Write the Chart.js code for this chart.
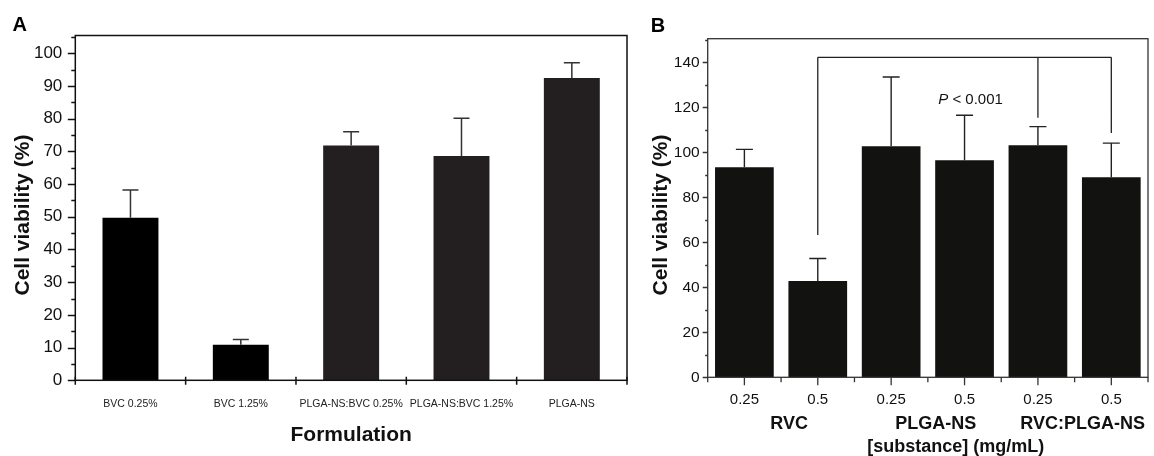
<!DOCTYPE html>
<html>
<head>
<meta charset="utf-8">
<script src="https://cdn.jsdelivr.net/npm/chart.js@4"></script>
<style>
  html, body { margin: 0; padding: 0; background: #fff; }
  #wrap { position: relative; width: 1154px; height: 456px; }
  canvas { position: absolute; top: 0; }
  #panelA { left: 0; }
  #panelB { left: 640px; }
</style>
</head>
<body>
<div id="wrap">
  <canvas id="panelA" width="640" height="456"></canvas>
  <canvas id="panelB" width="514" height="456"></canvas>
</div>
<script>
// panel A
const formulations = ['BVC 0.25%', 'BVC 1.25%', 'PLGA-NS:BVC 0.25%', 'PLGA-NS:BVC 1.25%', 'PLGA-NS'];
const viabilityA = [49.7, 10.9, 71.8, 68.6, 92.4];
const sdA = [8.5, 1.6, 4.2, 11.5, 4.7];
const yTicksA = [0, 10, 20, 30, 40, 50, 60, 70, 80, 90, 100];

// panel B
const doses = ['0.25', '0.5', '0.25', '0.5', '0.25', '0.5'];
const substances = ['RVC', 'PLGA-NS', 'RVC:PLGA-NS'];
const viabilityB = [93.4, 42.8, 102.7, 96.5, 103.1, 88.9];
const sdB = [7.9, 10.0, 30.8, 20.0, 8.3, 15.2];
const yTicksB = [0, 20, 40, 60, 80, 100, 120, 140];
// significance bracket: bar indexes, where each leg stops, bracket level
const bracketBars = [1, 4, 5];
const bracketEnds = [63.3, 115.4, 108.6];
const bracketLevel = 142.2;
const pText = 'P < 0.001';
const pTextAt = 121.5;

const FONT = 'Liberation Sans, Arial, Helvetica, sans-serif';
Chart.defaults.font.family = FONT;
Chart.defaults.color = '#111';

function errorBars(sd, color, cap, width) {
  return {
    id: 'errorBars',
    afterDatasetsDraw(chart) {
      const { ctx } = chart;
      const y = chart.scales.y;
      const ds = chart.data.datasets[0].data;
      ctx.save();
      ctx.strokeStyle = color;
      ctx.lineWidth = width;
      chart.getDatasetMeta(0).data.forEach((bar, i) => {
        const top = y.getPixelForValue(ds[i] + sd[i]);
        ctx.beginPath();
        ctx.moveTo(bar.x, bar.y);
        ctx.lineTo(bar.x, top);
        ctx.moveTo(bar.x - cap / 2, top);
        ctx.lineTo(bar.x + cap / 2, top);
        ctx.stroke();
      });
      ctx.restore();
    },
  };
}

// box, y ticks (major + minor) and x ticks
function frame(o) {
  return {
    id: 'frame',
    afterDatasetsDraw(chart) {
      const { ctx, chartArea: a, scales: { x, y } } = chart;
      ctx.save();
      ctx.strokeStyle = o.color;
      ctx.lineWidth = o.width;
      ctx.strokeRect(a.left, a.top, a.right - a.left, a.bottom - a.top);
      ctx.beginPath();
      for (let v = 0; v <= y.max; v += o.minorStep) {
        const py = Math.round(y.getPixelForValue(v)) + 0.5;
        const len = v % o.majorStep === 0 ? o.major : o.minor;
        ctx.moveTo(a.left - len, py);
        ctx.lineTo(a.left, py);
      }
      const half = (x.getPixelForValue(1) - x.getPixelForValue(0)) / 2;
      const n = chart.data.labels.length;
      for (let i = 0; i <= n; i++) {
        const px = x.getPixelForValue(0) - half + i * 2 * half;
        ctx.moveTo(px, a.bottom - o.edgeUp);
        ctx.lineTo(px, a.bottom + o.edgeDown);
      }
      if (o.centerDown) {
        for (let i = 0; i < n; i++) {
          const px = x.getPixelForValue(i);
          ctx.moveTo(px, a.bottom);
          ctx.lineTo(px, a.bottom + o.centerDown);
        }
      }
      ctx.stroke();
      ctx.restore();
    },
  };
}

function texts(draw) {
  return { id: 'texts', afterDraw(chart) { const { ctx } = chart; ctx.save(); draw(chart, ctx); ctx.restore(); } };
}

function yAxis(max, ticks, width, size, pad) {
  return {
    min: 0,
    max: max,
    afterFit: (s) => { s.width = width; },
    afterBuildTicks: (s) => { s.ticks = ticks.map((v) => ({ value: v })); },
    border: { display: false },
    grid: { display: false, drawTicks: false },
    ticks: { padding: pad, color: '#111', font: { size: size } },
  };
}

// ---------- A ----------
new Chart(document.getElementById('panelA').getContext('2d'), {
  type: 'bar',
  data: {
    labels: formulations,
    datasets: [{
      data: viabilityA,
      backgroundColor: ['#000', '#000', '#231f20', '#231f20', '#231f20'],
      barPercentage: 0.507,
      categoryPercentage: 1,
    }],
  },
  options: {
    responsive: false,
    animation: false,
    events: [],
    layout: { padding: { top: 35.5, right: 13, left: 0, bottom: 0 } },
    plugins: { legend: { display: false }, tooltip: { enabled: false } },
    scales: {
      x: {
        afterFit: (s) => { s.height = 75.7; },
        border: { display: false },
        grid: { display: false, drawTicks: false },
        ticks: { padding: 18, maxRotation: 0, autoSkip: false, color: '#222', font: { size: 10.5 } },
      },
      y: yAxis(105.4, yTicksA, 75.3, 17, 13),
    },
  },
  plugins: [
    frame({ color: '#111', width: 1.5, minorStep: 5, majorStep: 10, major: 7.5, minor: 4, edgeUp: 3.5, edgeDown: 4.5 }),
    errorBars(sdA, '#333', 16, 1.5),
    texts((chart, ctx) => {
      const a = chart.chartArea;
      ctx.fillStyle = '#000';
      ctx.font = 'bold 20px ' + FONT;
      ctx.textAlign = 'left';
      ctx.fillText('A', 12.5, 31);
      ctx.font = 'bold 21px ' + FONT;
      ctx.textAlign = 'center';
      ctx.fillStyle = '#111';
      ctx.fillText('Formulation', (a.left + a.right) / 2, 441);
      ctx.translate(29, 215);
      ctx.rotate(-Math.PI / 2);
      ctx.fillText('Cell viability (%)', 0, 0);
    }),
  ],
});

// ---------- B ----------
new Chart(document.getElementById('panelB').getContext('2d'), {
  type: 'bar',
  data: {
    labels: doses,
    datasets: [{
      data: viabilityB,
      backgroundColor: '#121310',
      barPercentage: 0.8,
      categoryPercentage: 1,
    }],
  },
  options: {
    responsive: false,
    animation: false,
    events: [],
    layout: { padding: { top: 38.7, right: 6, left: 0, bottom: 0 } },
    plugins: { legend: { display: false }, tooltip: { enabled: false } },
    scales: {
      x: {
        afterFit: (s) => { s.height = 78.7; },
        border: { display: false },
        grid: { display: false, drawTicks: false },
        ticks: { padding: 14, maxRotation: 0, autoSkip: false, color: '#111', font: { size: 15 } },
      },
      y: yAxis(150.5, yTicksB, 67.7, 15.5, 8),
    },
  },
  plugins: [
    frame({ color: '#333', width: 1.3, minorStep: 10, majorStep: 20, major: 5, minor: 2.5, edgeUp: 0, edgeDown: 5, centerDown: 8 }),
    errorBars(sdB, '#222', 17, 1.4),
    texts((chart, ctx) => {
      const { chartArea: a, scales: { x, y } } = chart;
      // bracket
      ctx.strokeStyle = '#222';
      ctx.lineWidth = 1.3;
      ctx.beginPath();
      const level = y.getPixelForValue(bracketLevel);
      const xs = bracketBars.map((i) => x.getPixelForValue(i));
      ctx.moveTo(xs[0], level);
      ctx.lineTo(xs[xs.length - 1], level);
      xs.forEach((px, k) => {
        ctx.moveTo(px, level);
        ctx.lineTo(px, y.getPixelForValue(bracketEnds[k]));
      });
      ctx.stroke();

      // P < 0.001
      ctx.fillStyle = '#111';
      ctx.font = 'italic 15px ' + FONT;
      const pW = ctx.measureText('P').width;
      ctx.font = '15px ' + FONT;
      const restW = ctx.measureText(pText.slice(1)).width;
      const cx = x.getPixelForValue(3) + 6;
      const py = y.getPixelForValue(pTextAt);
      let sx = cx - (pW + restW) / 2;
      ctx.textAlign = 'left';
      ctx.font = 'italic 15px ' + FONT;
      ctx.fillText('P', sx, py);
      ctx.font = '15px ' + FONT;
      ctx.fillText(pText.slice(1), sx + pW, py);

      // panel letter
      ctx.fillStyle = '#000';
      ctx.font = 'bold 20px ' + FONT;
      ctx.fillText('B', 10.7, 31.5);

      // group labels + axis titles
      ctx.fillStyle = '#111';
      ctx.textAlign = 'center';
      ctx.font = 'bold 18px ' + FONT;
      substances.forEach((s, i) => {
        const mid = (x.getPixelForValue(2 * i) + x.getPixelForValue(2 * i + 1)) / 2;
        ctx.fillText(s, mid + 8, 429);
      });
      ctx.fillText('[substance] (mg/mL)', (a.left + a.right) / 2 + 28, 452);
      ctx.font = 'bold 21px ' + FONT;
      ctx.translate(27, 215);
      ctx.rotate(-Math.PI / 2);
      ctx.fillText('Cell viability (%)', 0, 0);
    }),
  ],
});
</script>
</body>
</html>
